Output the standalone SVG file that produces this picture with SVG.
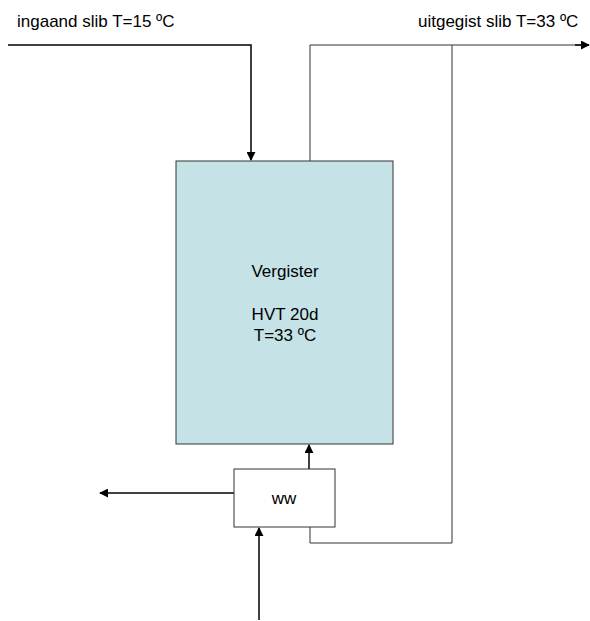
<svg xmlns="http://www.w3.org/2000/svg" width="590" height="621" viewBox="0 0 590 621">
<style>
text{font-family:"Liberation Sans",Arial,sans-serif;font-size:17px;fill:#000}
.c{fill:none;stroke:#000;stroke-width:1.5}
.t{fill:none;stroke:#333;stroke-width:1}
.box{stroke:#333;stroke-width:1}
</style>
<defs>
<marker id="a" viewBox="0 0 10 10" refX="9" refY="5" markerWidth="6" markerHeight="6" orient="auto" markerUnits="strokeWidth"><path d="M0,0L10,5L0,10z" fill="#000"/></marker>
</defs>
<rect width="590" height="621" fill="#fff"/>
<g id="connectors">
<path class="c" d="M8,45H251V160" marker-end="url(#a)"/>
<path class="t" d="M310,161V45H582"/>
<path class="c" d="M575,45H589" marker-end="url(#a)"/>
<path class="t" d="M452,45V543H310V527"/>
<path class="c" d="M309,469V445" marker-end="url(#a)"/>
<path class="c" d="M234,493H100" marker-end="url(#a)"/>
<path class="c" d="M259,620V528" marker-end="url(#a)"/>
</g>
<g id="vergister">
<rect class="box" x="176" y="161" width="217" height="283" fill="#C5E3E6"/>
<text x="285" y="277" text-anchor="middle">Vergister</text>
<text x="285" y="320" text-anchor="middle">HVT 20d</text>
<text x="285" y="341" text-anchor="middle">T=33 ºC</text>
</g>
<g id="ww">
<rect class="box" x="234" y="469" width="101" height="58" fill="#fff"/>
<text x="284" y="504" text-anchor="middle">ww</text>
</g>
<g id="label-in"><text x="17" y="27">ingaand slib T=15 ºC</text></g>
<g id="label-out"><text x="418" y="27">uitgegist slib T=33 ºC</text></g>
</svg>
